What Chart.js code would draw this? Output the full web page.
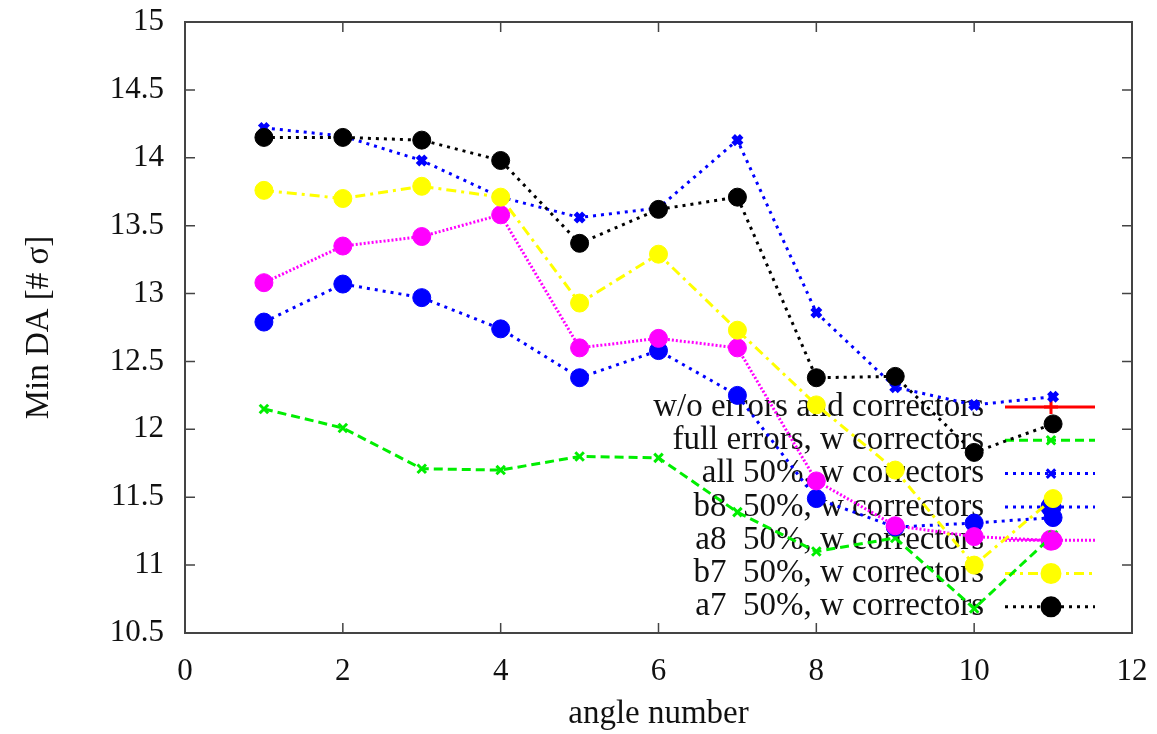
<!DOCTYPE html>
<html>
<head>
<meta charset="utf-8">
<script src="https://cdn.jsdelivr.net/npm/chart.js@4"></script>
<style>
  html, body { margin: 0; padding: 0; background: #fff; }
</style>
</head>
<body>
<canvas id="daChart" width="1157" height="734"></canvas>
<script>
const angles = [1, 2, 3, 4, 5, 6, 7, 8, 9, 10, 11];

// one array per curve
const woErrors = [];
const fullErrors = [12.15, 12.01, 11.71, 11.70, 11.80, 11.79, 11.39, 11.10, 11.20, 10.68, 11.22];
const all50 = [14.22, 14.16, 13.98, 13.71, 13.56, 13.63, 14.13, 12.86, 12.31, 12.18, 12.24];
const b850 = [12.79, 13.07, 12.97, 12.74, 12.38, 12.58, 12.25, 11.49, 11.28, 11.31, 11.35];
const a850 = [13.08, 13.35, 13.42, 13.58, 12.60, 12.67, 12.60, 11.62, 11.29, 11.21, 11.18];
const b750 = [13.76, 13.70, 13.79, 13.71, 12.93, 13.29, 12.73, 12.18, 11.70, 11.00, 11.49];
const a750 = [14.15, 14.15, 14.13, 13.98, 13.37, 13.62, 13.71, 12.38, 12.39, 11.83, 12.04];

const xTicks = [0, 2, 4, 6, 8, 10, 12];
const yTicks = [10.5, 11, 11.5, 12, 12.5, 13, 13.5, 14, 14.5, 15];

const serif = '"Liberation Serif", "Times New Roman", serif';

function pts(vals) {
    return vals.map((v, i) => ({ x: angles[i], y: v }));
}

function series(label, vals, color, dash, style, radius, pbw, order) {
    return {
        label: label,
        data: pts(vals),
        borderColor: color,
        backgroundColor: color,
        pointBackgroundColor: color,
        pointBorderColor: color,
        borderWidth: 3,
        borderDash: dash,
        pointStyle: style,
        pointRadius: radius,
        pointHoverRadius: radius,
        pointBorderWidth: pbw,
        tension: 0,
        fill: false,
        order: order
    };
}

// gnuplot style key: right aligned text, sample to the right
const keyPlugin = {
    id: 'gnuKey',
    beforeDatasetsDraw(chart) {
        const ctx = chart.ctx;
        const area = chart.chartArea;
        const textRight = area.right - 148;
        const x0 = area.right - 127, x1 = area.right - 37, xm = area.right - 81;
        ctx.save();
        ctx.font = '33px ' + serif;
        ctx.textAlign = 'right';
        ctx.textBaseline = 'middle';
        chart.data.datasets.forEach((ds, i) => {
            const y = 407 + i * 33.3;
            ctx.fillStyle = '#111';
            ctx.fillText(ds.label, textRight, y);
            ctx.strokeStyle = ds.borderColor;
            ctx.lineWidth = ds.borderWidth;
            ctx.setLineDash(ds.borderDash);
            ctx.beginPath();
            ctx.moveTo(x0, y);
            ctx.lineTo(x1, y);
            ctx.stroke();
            ctx.setLineDash([]);
            ctx.fillStyle = ds.pointBackgroundColor;
            ctx.strokeStyle = ds.pointBorderColor;
            Chart.helpers.drawPoint(ctx, {
                pointStyle: ds.pointStyle,
                radius: ds.pointRadius,
                borderWidth: ds.pointBorderWidth,
                rotation: 0
            }, xm, y);
        });
        ctx.restore();
    }
};

// border box with inward ticks on all four sides
const framePlugin = {
    id: 'frame',
    beforeDatasetsDraw(chart) {
        const ctx = chart.ctx;
        const a = chart.chartArea;
        const xs = chart.scales.x, ys = chart.scales.y;
        ctx.save();
        ctx.strokeStyle = '#444';
        ctx.lineWidth = 2;
        ctx.strokeRect(a.left, a.top, a.right - a.left, a.bottom - a.top);
        ctx.lineWidth = 1.5;
        ctx.beginPath();
        xTicks.forEach(t => {
            const px = xs.getPixelForValue(t);
            ctx.moveTo(px, a.bottom); ctx.lineTo(px, a.bottom - 10);
            ctx.moveTo(px, a.top); ctx.lineTo(px, a.top + 10);
        });
        yTicks.forEach(t => {
            const py = ys.getPixelForValue(t);
            ctx.moveTo(a.left, py); ctx.lineTo(a.left + 10, py);
            ctx.moveTo(a.right, py); ctx.lineTo(a.right - 10, py);
        });
        ctx.stroke();
        ctx.restore();
    }
};

const ctx = document.getElementById('daChart').getContext('2d');

const daChart = new Chart(ctx, {
    type: 'line',
    data: {
        datasets: [
            series('w/o errors and correctors', woErrors, '#ff0000', [], 'cross', 7, 2, 7),
            series('full errors, w correctors', fullErrors, '#00ee00', [9, 5], 'crossRot', 6, 3, 6),
            series('all 50%, w correctors', all50, '#0000ff', [3, 5], 'crossRot', 6, 5, 5),
            series('b8  50%, w correctors', b850, '#0000ff', [3, 5], 'circle', 9, 1, 4),
            series('a8  50%, w correctors', a850, '#ff00ff', [2, 2], 'circle', 9, 1, 3),
            series('b7  50%, w correctors', b750, '#ffff00', [10, 5, 3, 5], 'circle', 9, 1, 2),
            series('a7  50%, w correctors', a750, '#000000', [3, 5], 'circle', 9, 1, 1)
        ]
    },
    options: {
        responsive: false,
        animation: false,
        devicePixelRatio: 1,
        layout: { padding: { top: 22, right: 25, left: 0, bottom: 0 } },
        plugins: {
            legend: { display: false },
            tooltip: { enabled: false }
        },
        scales: {
            x: {
                type: 'linear',
                min: 0,
                max: 12,
                afterFit: s => { s.height = 101; s.paddingLeft = 0; s.paddingRight = 0; },
                afterBuildTicks: s => { s.ticks = xTicks.map(v => ({ value: v })); },
                grid: { display: false, drawTicks: false },
                border: { display: false },
                ticks: {
                    padding: 20, color: '#111', font: { family: serif, size: 31 },
                    callback: v => String(v)
                },
                title: {
                    display: true,
                    text: 'angle number',
                    color: '#111',
                    font: { family: serif, size: 33 },
                    padding: { top: 0, bottom: 0 }
                }
            },
            y: {
                type: 'linear',
                min: 10.5,
                max: 15,
                afterFit: s => { s.width = 185; s.paddingTop = 0; s.paddingBottom = 0; },
                afterBuildTicks: s => { s.ticks = yTicks.map(v => ({ value: v })); },
                grid: { display: false, drawTicks: false },
                border: { display: false },
                ticks: {
                    padding: 21, color: '#111', font: { family: serif, size: 31 },
                    callback: v => String(v)
                },
                title: {
                    display: true,
                    text: 'Min DA [# σ]',
                    color: '#111',
                    font: { family: serif, size: 33 },
                    padding: { top: 20, bottom: 0 }
                }
            }
        }
    },
    plugins: [framePlugin, keyPlugin]
});
</script>
</body>
</html>
